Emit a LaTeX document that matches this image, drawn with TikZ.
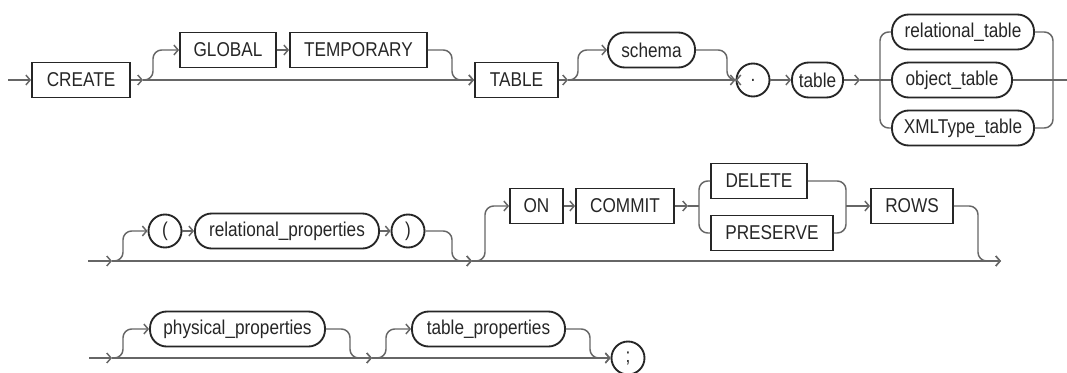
\documentclass[tikz,border=0pt]{standalone}
\usepackage{fontspec}
\setmainfont{Liberation Sans}[FakeStretch=0.86]
\usetikzlibrary{arrows.meta}
\begin{document}
\begin{tikzpicture}[x=0.75pt,y=-0.75pt,
  every node/.style={font=\fontsize{15pt}{17pt}\selectfont, text=black!85, inner sep=0pt},
  wd/.style={minimum width=#1*0.75pt},
  kw/.style={draw=black!85, line width=1.4pt, rectangle, minimum height=35*0.75pt, wd=#1},
  pill/.style={draw=black!85, line width=1.4pt, rectangle, rounded corners=12.5pt, minimum height=35*0.75pt, wd=#1},
  sym/.style={draw=black!85, line width=1.4pt, circle, minimum size=33*0.75pt},
  conn/.style={draw=black!60, line width=1.1pt, rounded corners=6.5pt},
  arr/.style={conn, -{Straight Barb[length=3.2pt,width=7.5pt]}}
]
\useasboundingbox (0,0) rectangle (1067,372);

% ---------- first line ----------
\node[kw=98]   (create)    at (81,80)     {CREATE};
\node[kw=96]   (global)    at (228,50)    {GLOBAL};
\node[kw=137]  (temporary) at (358.5,50)  {TEMPORARY};
\node[kw=83]   (table)     at (516.5,80)  {TABLE};
\node[pill=87] (schema)    at (651.5,50)  {schema};
\node[sym]     (dot)       at (753,80)    {.};
\node[pill=51] (tname)     at (817.5,80)  {table};
\node[pill=142](reltab)    at (963,32)    {relational\_table};
\node[pill=120](objtab)    at (952,80)    {object\_table};
\node[pill=142](xmltab)    at (963,128)   {XMLType\_table};

\coordinate (s1) at (8,80);
\coordinate (b1) at (143,80);
\coordinate (u1) at (153,80);
\coordinate (m1) at (452,80);
\coordinate (b2) at (568,80);
\coordinate (u2) at (578,80);
\coordinate (m2) at (727,80);
\coordinate (b3) at (860,80);
\coordinate (lb1) at (880,80);
\coordinate (rb1) at (1053,80);
\coordinate (e1) at (1067,80);

\draw[arr] (s1) -- (create.west);
\draw[arr] (create.east) -- (b1);
\draw[arr] (b1) -- (table.west);
\draw[arr] (b1) -- (u1) |- (global.west);
\draw[arr] (global.east) -- (temporary.west);
\draw[arr] (temporary.east) -| (m1) -- (table.west);
\draw[arr] (table.east) -- (b2);
\draw[arr] (b2) -- (dot.west);
\draw[arr] (b2) -- (u2) |- (schema.west);
\draw[arr] (schema.east) -| (m2) -- (dot.west);
\draw[arr] (dot.east) -- (tname.west);
\draw[arr] (tname.east) -- (b3);
\draw[conn] (b3) -- (objtab.west);
\draw[conn] (reltab.west) -| (lb1) |- (xmltab.west);
\draw[conn] (reltab.east) -| (rb1) |- (xmltab.east);
\draw[conn] (objtab.east) -- (e1);

% ---------- second line ----------
\node[sym]     (lparen)   at (165,231)   {(};
\node[pill=184](relprops) at (287,231)   {relational\_properties};
\node[sym]     (rparen)   at (408,231)   {)};
\node[kw=53]   (on)       at (536.5,206) {ON};
\node[kw=98]   (commit)   at (625,206)   {COMMIT};
\node[kw=96]   (delete)   at (759,181)   {DELETE};
\node[kw=122]  (preserve) at (772,233)   {PRESERVE};
\node[kw=82]   (rows)     at (912,206)   {ROWS};

\coordinate (s2) at (88,261);
\coordinate (b4) at (112,261);
\coordinate (u4) at (123,261);
\coordinate (m3) at (452,261);
\coordinate (b5) at (472,261);
\coordinate (u5) at (485,261);
\coordinate (b7) at (688,206);
\coordinate (lb2) at (699,206);
\coordinate (rb2) at (846,206);
\coordinate (m4) at (978,261);
\coordinate (b6) at (1001,261);

\draw[arr] (s2) -- (b4);
\draw[arr] (b4) -- (u4) |- (lparen.west);
\draw[arr] (lparen.east) -- (relprops.west);
\draw[arr] (relprops.east) -- (rparen.west);
\draw[arr] (b4) -- (b5);
\draw[arr] (rparen.east) -| (m3) -- (b5);
\draw[arr] (b5) -- (u5) |- (on.west);
\draw[arr] (on.east) -- (commit.west);
\draw[arr] (commit.east) -- (b7);
\draw[conn] (b7) -- (lb2);
\draw[conn] (delete.west) -| (lb2) |- (preserve.west);
\draw[conn] (delete.east) -| (rb2) |- (preserve.east);
\draw[arr] (rb2) -- (rows.west);
\draw[arr] (b5) -- (b6);
\draw[arr] (rows.east) -| (m4) -- (b6);

% ---------- third line ----------
\node[pill=175](physprops) at (237.5,329) {physical\_properties};
\node[pill=153](tabprops)  at (488.5,329) {table\_properties};
\node[sym]     (semi)      at (628,358)   {;};

\coordinate (s3) at (89,358);
\coordinate (b8) at (112,358);
\coordinate (u8) at (123,358);
\coordinate (m5) at (350,358);
\coordinate (b9) at (372,358);
\coordinate (u9) at (386,358);
\coordinate (m6) at (590,358);

\draw[arr] (s3) -- (b8);
\draw[arr] (b8) -- (u8) |- (physprops.west);
\draw[arr] (b8) -- (b9);
\draw[arr] (physprops.east) -| (m5) -- (b9);
\draw[arr] (b9) -- (u9) |- (tabprops.west);
\draw[arr] (b9) -- (semi.west);
\draw[arr] (tabprops.east) -| (m6) -- (semi.west);
\end{tikzpicture}
\end{document}
